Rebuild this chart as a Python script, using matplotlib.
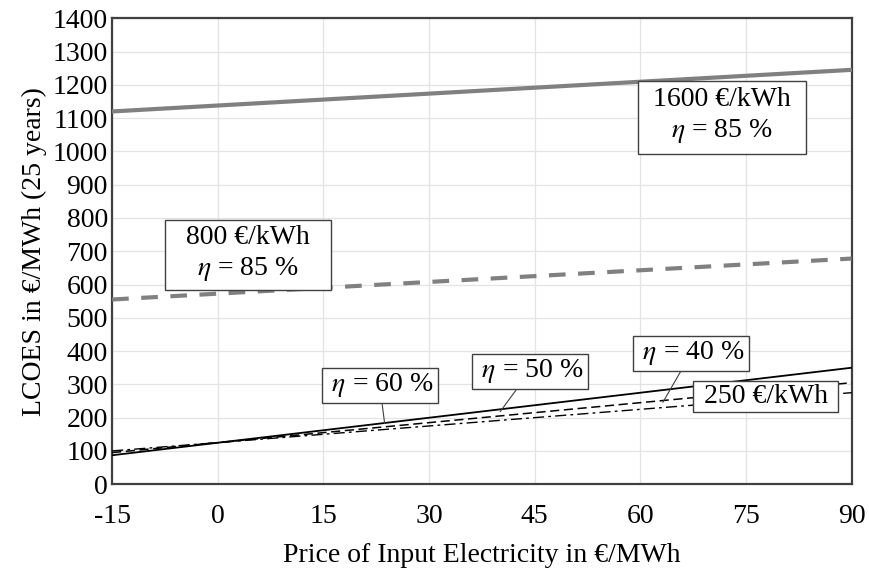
import numpy as np
import matplotlib.pyplot as plt

# price of input electricity (EUR/MWh), end points of each straight line
price = [-15, 90]

# LCOES in EUR/MWh
lcoes_1600_85 = [1120, 1245]
lcoes_800_85 = [555, 678]
lcoes_250_40 = [87, 350]
lcoes_250_50 = [95, 305]
lcoes_250_60 = [100, 275]

x_ticks = [-15, 0, 15, 30, 45, 60, 75, 90]
y_ticks = list(range(0, 1401, 100))


def main():
    plt.rcParams.update({
        "font.family": ["Liberation Serif", "DejaVu Serif"],
        "mathtext.fontset": "stix",
        "font.size": 20,
        "axes.unicode_minus": False,
    })

    fig = plt.figure(figsize=(8.69, 5.71), dpi=100)
    ax = fig.add_axes([0.129, 0.152, 0.851, 0.816])

    ax.plot(price, lcoes_1600_85, color="#808080", lw=3, zorder=3)
    ax.plot(price, lcoes_800_85, color="#808080", lw=3, ls=(0, (4, 3)), zorder=3)
    ax.plot(price, lcoes_250_40, color="black", lw=1.3, zorder=3)
    ax.plot(price, lcoes_250_50, color="black", lw=1.1, ls=(0, (6, 3)), zorder=3)
    ax.plot(price, lcoes_250_60, color="black", lw=1.0, ls=(0, (8, 3, 2, 3)), zorder=3)

    ax.set_xlim(-15, 90)
    ax.set_ylim(0, 1400)
    ax.set_xticks(x_ticks)
    ax.set_yticks(y_ticks)
    ax.tick_params(length=0, labelsize=20)
    ax.tick_params(axis="y", pad=3)
    ax.tick_params(axis="x", pad=14)
    ax.grid(color="#e3e3e3", lw=0.9)
    ax.set_axisbelow(True)
    for s in ax.spines.values():
        s.set_color("#404040")
        s.set_linewidth(1.6)

    ax.set_xlabel("Price of Input Electricity in €/MWh", fontsize=20, labelpad=10)
    ax.set_ylabel("LCOES in €/MWh (25 years)", fontsize=20, labelpad=4)

    fs = 20
    ec = "#404040"
    ax.text(71.6, 1105, " 1600 €/kWh \n$\\eta$ = 85 %", ha="center", va="center",
            fontsize=fs, bbox=dict(boxstyle="square,pad=0.3", fc="white", ec=ec, lw=1.0),
            linespacing=1.25, zorder=5)
    ax.text(4.3, 693, "  800 €/kWh  \n$\\eta$ = 85 %", ha="center", va="center",
            fontsize=fs, bbox=dict(boxstyle="square,pad=0.25", fc="white", ec=ec, lw=1.0),
            linespacing=1.25, zorder=5)

    box = dict(boxstyle="square,pad=0.12", fc="white", ec=ec, lw=1.0)
    leader = dict(arrowstyle="-", color=ec, lw=0.8, shrinkA=0, shrinkB=0)
    ax.annotate(" $\\eta$ = 60 % ", xy=(23.7, 182), xytext=(23.0, 297), ha="center", va="center",
                fontsize=fs, bbox=box, arrowprops=leader, zorder=5)
    ax.annotate(" $\\eta$ = 50 % ", xy=(40.1, 218), xytext=(44.3, 339), ha="center", va="center",
                fontsize=fs, bbox=box, arrowprops=leader, zorder=5)
    ax.annotate(" $\\eta$ = 40 % ", xy=(63.2, 246), xytext=(67.2, 393), ha="center", va="center",
                fontsize=fs, bbox=box, arrowprops=leader, zorder=5)
    ax.text(77.8, 264, " 250 €/kWh ", ha="center", va="center", fontsize=fs,
            bbox=dict(boxstyle="square,pad=0.12", fc="white", ec=ec, lw=1.0), zorder=5)

    fig.savefig("out.png", dpi=100)
    plt.close(fig)


if __name__ == "__main__":
    main()
